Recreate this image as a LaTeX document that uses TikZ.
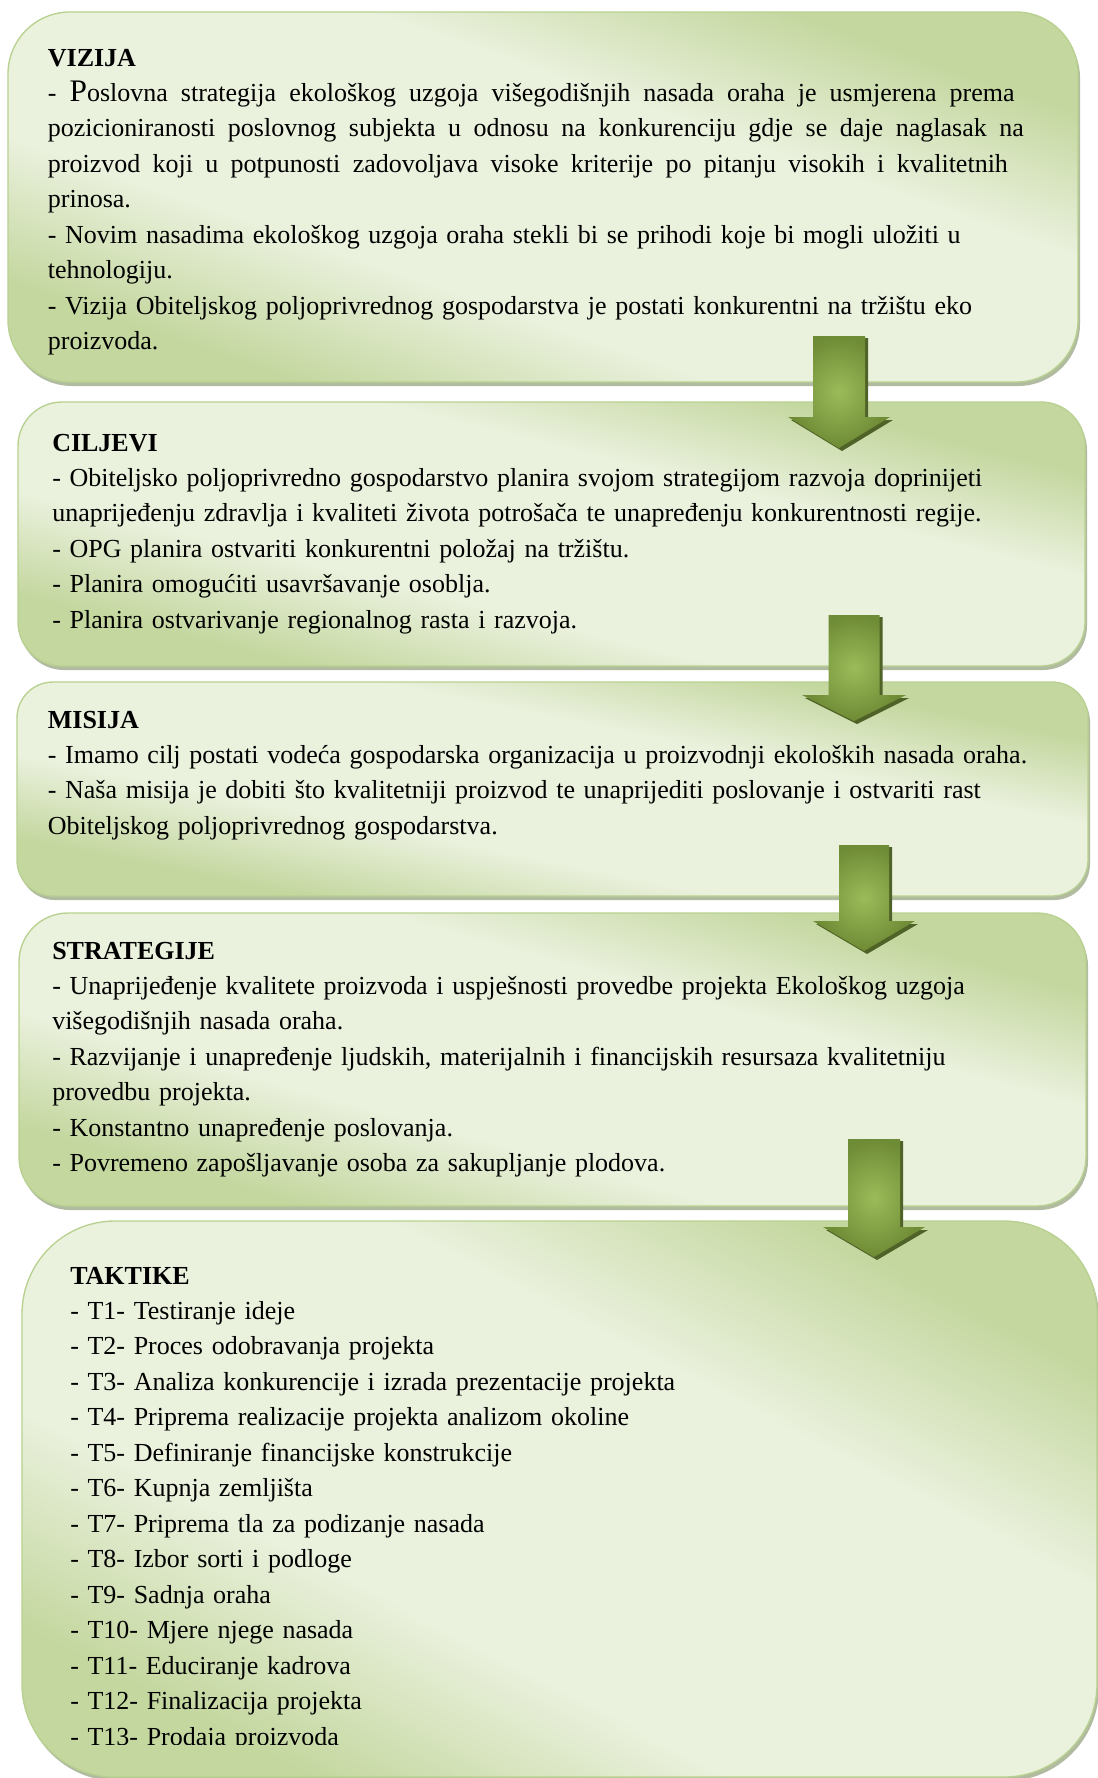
\documentclass[tikz,border=0pt]{standalone}
\usepackage{fontspec}
\setmainfont{Liberation Serif}
\usetikzlibrary{shadows}
\definecolor{boxlight}{HTML}{EAF1DD}
\definecolor{boxdark}{HTML}{C4D79F}
\definecolor{boxline}{HTML}{B9D190}
\definecolor{boxshadow}{HTML}{A8B496}
\definecolor{arrowlight}{HTML}{9BBB59}
\definecolor{arrowdark}{HTML}{6E8B35}
\definecolor{arrowshadow}{HTML}{4F6228}
\pgfdeclareverticalshading{panelshade}{100bp}{color(0bp)=(boxdark); color(24bp)=(boxdark); color(38bp)=(boxlight); color(62bp)=(boxlight); color(76bp)=(boxdark); color(100bp)=(boxdark)}
\newcommand\bodyfont{\fontsize{19.5}{26.6}\selectfont}
\newcommand\bigP{{\fontsize{23.5}{26.6}\selectfont P}}
\newcommand\jline[2]{\leavevmode\hbox to #1{\spaceskip=\fontdimen2\font plus 1fil\relax #2}}
% panel: name, x1, y1, x2, y2, corner radius
\newcommand\panel[6]{%
  \pgfmathsetmacro\pw{(#4-#2)*0.75}%
  \pgfmathsetmacro\ph{(#5-#3)*0.75}%
  \node[panelbase, rounded corners=#6, minimum width=\pw pt, minimum height=\ph pt] (#1) at ({(#2+#4)/2},{(#3+#5)/2}) {};
  \begin{scope}
    \clip[rounded corners=#6] (#2,#3) rectangle (#4,#5);
    \shade[shading=panelshade, shading angle=-45,
      transform canvas={shift={(#2*0.75pt,-#5*0.75pt)}, xscale={\pw/10}, yscale={\ph/10}}]
      (0pt,0pt) rectangle (10pt,10pt);
  \end{scope}
  \draw[boxline, line width=1pt, rounded corners=#6] (#2,#3) rectangle (#4,#5);
}
% block arrow: name, cx, top, headbase, tip, shaft half width, head half width
\newcommand\blockarrow[7]{%
  \fill[arrowshadow] (#2-#6+3,#3+2) -- (#2+#6+3,#3+2) -- (#2+#6+3,#4+3) -- (#2+#7+3,#4+3)
     -- (#2+3,#5+3) -- (#2-#7+3,#4+3) -- (#2-#6+3,#4+3) -- cycle;
  \shade[inner color=arrowlight, outer color=arrowdark] (#2-#6,#3) -- (#2+#6,#3) -- (#2+#6,#4) -- (#2+#7,#4)
     -- (#2,#5) -- (#2-#7,#4) -- (#2-#6,#4) -- cycle;
  \coordinate (#1) at (#2,#5);
}
\tikzset{
  panelbase/.style={fill=boxdark, inner sep=0pt,
    drop shadow={shadow xshift=1.5pt, shadow yshift=-3pt, fill=boxshadow, opacity=0.9}},
  paneltext/.style={anchor=base west, inner sep=0pt, text width=790pt, align=left, font=\bodyfont}
}
\begin{document}
\begin{tikzpicture}[x=0.75pt,y=-0.75pt]
\useasboundingbox (0,0) rectangle (1097,1778);
\fill[white] (0,0) rectangle (1097,1778);

\panel{vizija}{8}{12}{1078}{382}{46.5pt}
\panel{ciljevi}{18}{402}{1085}{666}{33pt}
\panel{misija}{17}{682}{1088}{896}{27pt}
\panel{strategije}{19}{913}{1086}{1206}{36.75pt}
\panel{taktike}{22}{1221}{1097}{1777}{69.75pt}

\node[paneltext] (vizijatext) at (47.6,66) {\textbf{VIZIJA}\\
\jline{725pt}{- \bigP oslovna strategija ekološkog uzgoja višegodišnjih nasada oraha je usmjerena prema}\\
\jline{732pt}{pozicioniranosti poslovnog subjekta u odnosu na konkurenciju gdje se daje naglasak na}\\
\jline{720pt}{proizvod koji u potpunosti zadovoljava visoke kriterije po pitanju visokih i kvalitetnih}\\
prinosa.\\
- Novim nasadima ekološkog uzgoja oraha stekli bi se prihodi koje bi mogli uložiti u\\
tehnologiju.\\
- Vizija Obiteljskog poljoprivrednog gospodarstva je postati konkurentni na tržištu eko\\
proizvoda.};

\node[paneltext] (ciljevitext) at (52,451) {\textbf{CILJEVI}\\
- Obiteljsko poljoprivredno gospodarstvo planira svojom strategijom razvoja doprinijeti\\
unaprijeđenju zdravlja i kvaliteti života potrošača te unapređenju konkurentnosti regije.\\
- OPG planira ostvariti konkurentni položaj na tržištu.\\
- Planira omogućiti usavršavanje osoblja.\\
- Planira ostvarivanje regionalnog rasta i razvoja.};

\node[paneltext] (misijatext) at (47.6,728) {\textbf{MISIJA}\\
- Imamo cilj postati vodeća gospodarska organizacija u proizvodnji ekoloških nasada oraha.\\
- Naša misija je dobiti što kvalitetniji proizvod te unaprijediti poslovanje i ostvariti rast\\
Obiteljskog poljoprivrednog gospodarstva.};

\node[paneltext] (strategijetext) at (52,959) {\textbf{STRATEGIJE}\\
- Unaprijeđenje kvalitete proizvoda i uspješnosti provedbe projekta Ekološkog uzgoja\\
višegodišnjih nasada oraha.\\
- Razvijanje i unapređenje ljudskih, materijalnih i financijskih resursaza kvalitetniju\\
provedbu projekta.\\
- Konstantno unapređenje poslovanja.\\
- Povremeno zapošljavanje osoba za sakupljanje plodova.};

\begin{scope}
\clip (0,0) rectangle (1097,1744);
\node[paneltext] (taktiketext) at (70,1284) {\textbf{TAKTIKE}\\
- T1- Testiranje ideje\\
- T2- Proces odobravanja projekta\\
- T3- Analiza konkurencije i izrada prezentacije projekta\\
- T4- Priprema realizacije projekta analizom okoline\\
- T5- Definiranje financijske konstrukcije\\
- T6- Kupnja zemljišta\\
- T7- Priprema tla za podizanje nasada\\
- T8- Izbor sorti i podloge\\
- T9- Sadnja oraha\\
- T10- Mjere njege nasada\\
- T11- Educiranje kadrova\\
- T12- Finalizacija projekta\\
- T13- Prodaja proizvoda};
\end{scope}

\blockarrow{a1}{839}{336}{417}{448}{26}{51}
\blockarrow{a2}{854}{615}{695}{721}{25.5}{52}
\blockarrow{a3}{864}{845}{921}{951}{25}{51}
\blockarrow{a4}{874}{1139}{1227}{1257}{26}{51}
\end{tikzpicture}
\end{document}
